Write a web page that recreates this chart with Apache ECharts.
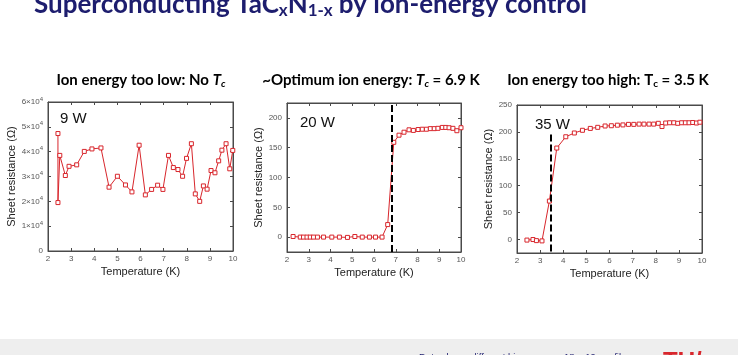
<!DOCTYPE html>
<html><head><meta charset="utf-8">
<script src="https://cdn.jsdelivr.net/npm/echarts@6/dist/echarts.min.js"></script>
<style>html,body{margin:0;padding:0;background:#fff}#c{width:738px;height:355px}</style>
</head><body><div id="c"></div>
<script>
// ---- data ----
const xTicks = [2,3,4,5,6,7,8,9,10];

const lowT = [2.43,2.43,2.51,2.75,2.91,3.24,3.57,3.90,4.29,4.64,5.00,5.35,5.63,5.94,6.21,6.48,6.74,6.97,7.21,7.42,7.62,7.82,7.99,8.20,8.37,8.56,8.72,8.88,9.05,9.22,9.38,9.52,9.70,9.86,9.99];
const lowR = [47300,19500,38500,30400,34100,34700,40100,41100,41500,25700,30100,26600,23800,42600,22600,24800,26500,24800,38500,33600,32800,30100,37300,43200,23000,20000,26200,24900,32400,31500,36300,40600,43200,33100,40500];
const lowTicks = [0,10000,20000,30000,40000,50000,60000];

const midT = [2.28,2.61,2.76,2.92,3.07,3.22,3.40,3.68,4.06,4.41,4.78,5.12,5.46,5.79,6.07,6.37,6.63,6.91,7.15,7.38,7.61,7.81,8.03,8.22,8.41,8.59,8.77,8.94,9.14,9.30,9.45,9.63,9.81,10.0];
const midR = [1,0,0,0,0,0,0,0,0,0,-0.5,1,0,0,0,0,21,159,171,176,180,179,180.5,181,181,182,182,182.5,184,184,183.5,182.5,178.5,183.5];
const midTicks = [0,50,100,150,200];
const midTc = 6.8;

const highT = [2.43,2.69,2.84,3.08,3.40,3.72,4.11,4.48,4.83,5.17,5.49,5.81,6.08,6.34,6.58,6.82,7.05,7.28,7.49,7.71,7.91,8.11,8.27,8.43,8.60,8.78,8.95,9.12,9.28,9.44,9.60,9.76,9.91];
const highR = [-1,0,-2,-2.5,71.5,170,191,198,203,206.5,208.5,211,211.5,212.5,213,214,214,214.5,214.5,214.5,214.5,216,210,216.5,217,217,216,217,217,217,217.5,216.5,218];
const highTicks = [0,50,100,150,200,250];
const highTc = 3.48;
const highTcTop = 195;

const panelTitles = [
  '{b|Ion energy too low: No }{bi|T}{sub|c}',
  '{b|~Optimum ion energy: }{bi|T}{sub|c}{b| = 6.9 K}',
  '{b|Ion energy too high: T}{sub|c}{b| = 3.5 K}'
];
const powerLabels = ['9 W','20 W','35 W'];

// ---- layout ----
const RED = '#d8262c';
const AX = '#4a4a4a';
const LBL = '#555';
const panels = [
  {left:48, top:102, width:185, height:149, ymin:0, ymax:60000, ticks:lowTicks, T:lowT, R:lowR, nameGap:28, tx:136, lx:55, ly:106},
  {left:287, top:103, width:174, height:149, ymin:-25, ymax:225, ticks:midTicks, T:midT, R:midR, nameGap:20, tx:366, lx:295, ly:110},
  {left:517, top:105, width:185, height:148, ymin:-25, ymax:250, ticks:highTicks, T:highT, R:highR, nameGap:21, tx:603, lx:530, ly:112}
];

const grid = [], xAxis = [], yAxis = [], series = [], title = [];
const supRich = {a:{fontSize:8,color:LBL,fontFamily:'Liberation Sans'}, s:{fontSize:6,color:LBL,fontFamily:'Liberation Sans',padding:[0,0,6,0]}};

panels.forEach((p,i)=>{
  grid.push({left:p.left, top:p.top, width:p.width, height:p.height, show:true, borderColor:AX, borderWidth:1, containLabel:false});
  const xBase = {type:'value', gridIndex:i, min:2, max:10, interval:1,
    axisLine:{show:true,onZero:false,lineStyle:{color:AX}}, axisTick:{show:true,inside:true,length:3,lineStyle:{color:AX}},
    splitLine:{show:false}};
  xAxis.push(Object.assign({}, xBase, {position:'bottom', name:'Temperature (K)', nameLocation:'middle', nameGap:15,
    nameTextStyle:{fontSize:11,color:'#222',fontFamily:'Liberation Sans'},
    axisLabel:{fontSize:8,color:LBL,margin:4,fontFamily:'Liberation Sans'}}));
  xAxis.push(Object.assign({}, xBase, {position:'top', axisLabel:{show:false}}));
  const yBase = {type:'value', gridIndex:i, min:p.ymin, max:p.ymax,
    axisLine:{show:true,onZero:false,lineStyle:{color:AX}},
    axisTick:{show:true,inside:true,length:3,lineStyle:{color:AX},customValues:p.ticks},
    splitLine:{show:false}};
  const lab = {fontSize:8,color:LBL,margin:5,fontFamily:'Liberation Sans',customValues:p.ticks};
  if(i===0){
    lab.formatter = v => v===0 ? '{a|0}' : '{a|'+(v/10000)+'×10}{s|4}';
    lab.rich = supRich;
  }
  yAxis.push(Object.assign({}, yBase, {position:'left', name:'Sheet resistance (Ω)', nameLocation:'middle', nameGap:p.nameGap,
    nameTextStyle:{fontSize:11,color:'#222',fontFamily:'Liberation Sans'}, axisLabel:lab}));
  yAxis.push(Object.assign({}, yBase, {position:'right', axisLabel:{show:false}}));

  const s = {type:'line', xAxisIndex:2*i, yAxisIndex:2*i, data:p.T.map((t,k)=>[t,p.R[k]]),
    symbol:'rect', symbolSize:4, showSymbol:true,
    lineStyle:{color:RED,width:1}, itemStyle:{color:'#fff',borderColor:RED,borderWidth:1},
    emphasis:{disabled:true}, animation:false, z:3};
  const ml = {symbol:'none', silent:true, label:{show:false}, animation:false,
    lineStyle:{type:[7,3],color:'#000',width:2}};
  if(i===1){ s.markLine = Object.assign({data:[{xAxis:midTc}]}, ml); }
  if(i===2){ s.markLine = Object.assign({data:[[{coord:[highTc,highTcTop]},{coord:[highTc,p.ymin]}]]}, ml); }
  series.push(s);

  title.push({text:panelTitles[i], left:p.tx, top:66, textAlign:'center',
    textStyle:{rich:{
      b:{fontSize:15,fontWeight:'bold',color:'#000',fontFamily:'Lato',lineHeight:18},
      bi:{fontSize:15,fontWeight:'bold',fontStyle:'italic',color:'#000',fontFamily:'Lato',lineHeight:18},
      sub:{fontSize:10,fontWeight:'bold',fontStyle:i<2?'italic':'normal',color:'#000',fontFamily:'Lato',lineHeight:18,padding:[7,0,0,0]}
    }}});
  title.push({text:powerLabels[i], left:p.lx, top:p.ly, textStyle:{fontSize:15,fontWeight:'normal',color:'#111',fontFamily:'Liberation Sans'}});
});

title.push({text:'{m|Superconducting TaC}{s|x}{m|N}{s|1-x}{m| by ion-energy control}', left:29, top:-16,
  textStyle:{rich:{
    m:{fontSize:26,fontWeight:'bold',color:'#1d1d6e',fontFamily:'Lato',lineHeight:32},
    s:{fontSize:17,fontWeight:'bold',color:'#1d1d6e',fontFamily:'Lato',lineHeight:32,padding:[12,0,0,0]}
  }}});
title.push({text:'Data shows different bias powers; 18 – 19 nm films', left:414, top:347,
  textStyle:{fontSize:9.5,fontWeight:'normal',color:'#1d1d6e',fontFamily:'Liberation Sans'}});
title.push({text:'TU/e', left:658, top:345, textStyle:{fontSize:24,fontWeight:'bold',color:'#d8262c',fontFamily:'Liberation Sans'}});

const chart = echarts.init(document.getElementById('c'), null, {renderer:'canvas'});
chart.setOption({
  animation:false,
  backgroundColor:'#fff',
  graphic:[{type:'rect', left:0, top:339, shape:{width:738,height:16}, style:{fill:'#eeeeee'}, z:-1}],
  title, grid, xAxis, yAxis, series
});
</script></body></html>
